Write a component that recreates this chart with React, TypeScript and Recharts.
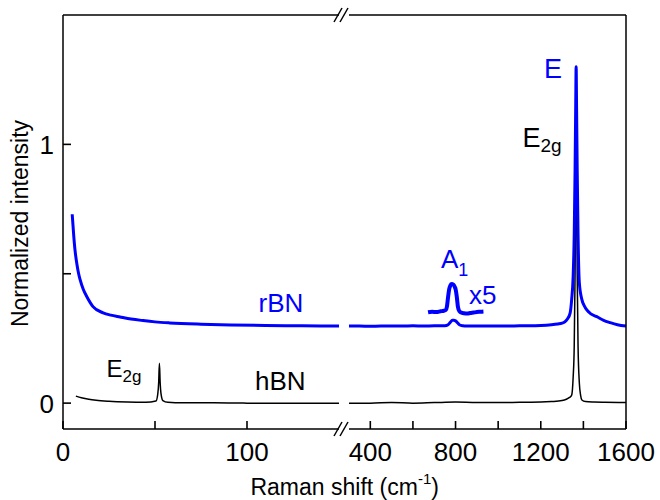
import React from "react";
import { LineChart, Line, XAxis, YAxis } from "recharts";

// hBN, low-frequency window
const hbnLowShift = [7, 10, 14, 18, 25, 35, 45, 50.5, 51.5, 52, 52.4, 52.8, 53.3, 54.3, 57, 65, 80, 100, 120, 150];
const hbnLowInt = [0.027, 0.021, 0.015, 0.011, 0.007, 0.004, 0.003, 0.008, 0.035, 0.08, 0.154, 0.08, 0.035, 0.01, 0.003, 0.001, 0.001, 0, 0, 0];

// rBN, low-frequency window
const rbnLowShift = [5, 5.8, 6.5, 7.5, 8.5, 9.3, 11, 12.9, 16.3, 21.8, 26, 31, 37, 43.5, 50, 58, 75, 91, 110, 130, 150];
const rbnLowInt = [0.73, 0.65, 0.593, 0.54, 0.5, 0.477, 0.44, 0.412, 0.373, 0.349, 0.34, 0.333, 0.325, 0.319, 0.314, 0.31, 0.305, 0.302, 0.3, 0.299, 0.298];

// hBN, high-frequency window
const hbnHighShift = [300, 400, 500, 600, 700, 800, 900, 1000, 1100, 1200, 1250, 1300, 1320, 1335, 1345, 1352, 1357, 1361, 1364, 1366, 1368, 1371, 1375, 1381, 1387, 1393, 1410, 1450, 1500, 1600];
const hbnHighInt = [0, 0, 0.002, 0, 0.002, 0.004, 0.002, 0.002, 0.003, 0.004, 0.006, 0.01, 0.015, 0.022, 0.031, 0.1, 0.22, 0.5, 0.85, 1.0, 0.85, 0.5, 0.22, 0.078, 0.03, 0.012, 0.006, 0.004, 0.003, 0.002];

// rBN, high-frequency window
const rbnHighShift = [300, 350, 400, 450, 500, 550, 600, 650, 700, 750, 765, 775, 785, 792, 800, 810, 820, 835, 850, 900, 950, 1000, 1050, 1100, 1150, 1200, 1250, 1280, 1300, 1314, 1325, 1338, 1345, 1352, 1357, 1361, 1364, 1366, 1368, 1371, 1375, 1381, 1393, 1405, 1416, 1435, 1463, 1495, 1526, 1560, 1600];
const rbnHighInt = [0.298, 0.298, 0.297, 0.298, 0.298, 0.298, 0.299, 0.298, 0.299, 0.299, 0.303, 0.312, 0.32, 0.32, 0.318, 0.31, 0.302, 0.299, 0.298, 0.298, 0.298, 0.298, 0.298, 0.299, 0.299, 0.3, 0.303, 0.306, 0.309, 0.315, 0.325, 0.349, 0.4, 0.49, 0.65, 0.9, 1.15, 1.3, 1.15, 0.9, 0.65, 0.465, 0.4, 0.375, 0.36, 0.345, 0.334, 0.32, 0.311, 0.303, 0.298];

// rBN A1 band, x5 magnified
const rbnA1Shift = [671, 690, 710, 730, 745, 754, 760, 765, 770, 776, 782, 790, 797, 801, 806, 811, 818, 826, 840, 855, 869, 885, 900, 915, 931];
const rbnA1Int = [0.351, 0.353, 0.352, 0.355, 0.357, 0.36, 0.375, 0.41, 0.44, 0.455, 0.46, 0.458, 0.448, 0.438, 0.41, 0.373, 0.355, 0.35, 0.347, 0.346, 0.348, 0.35, 0.352, 0.353, 0.354];

const lowTicks = [0, 50, 100];
const lowLabels = [0, 100];
const highTicks = [400, 600, 800, 1000, 1200, 1400, 1600];
const highLabels = [400, 800, 1200, 1600];
const yTicks = [0, 0.5, 1];
const yLabels = [0, 1];

const zip = (xs: number[], ys: number[]) => xs.map((x, i) => ({ x, y: ys[i] }));

const BLUE = "#0000ff";
const FONT = '"Liberation Sans", Arial, sans-serif';
const axisStroke = { stroke: "#000", strokeWidth: 1.5 };
const tickStroke = { stroke: "#000", strokeWidth: 1.6 };
const TICK_LEN = -8; // negative = ticks point into the plot

const bottomLabel = (labels: number[]) => (props: any) => {
  const { x, y, payload } = props;
  if (!labels.includes(payload.value)) return <g />;
  return (
    <text x={x} y={y + 32} textAnchor="middle" fontSize={26} fill="#000" fontFamily={FONT}>
      {payload.value}
    </text>
  );
};

const leftLabel = (props: any) => {
  const { x, y, payload } = props;
  if (!yLabels.includes(payload.value)) return <g />;
  return (
    <text x={x - 9} y={y + 9.5} textAnchor="end" fontSize={26} fill="#000" fontFamily={FONT}>
      {payload.value}
    </text>
  );
};

export default function App() {
  return (
    <div style={{ position: "absolute", left: 0, top: 0, width: 660, height: 500, background: "#fff", fontFamily: FONT }}>
      <div style={{ position: "absolute", left: 0, top: 0 }}>
        <LineChart width={339} height={500} margin={{ top: 14, right: 0, bottom: 0, left: 0 }}>
          <XAxis
            dataKey="x"
            type="number"
            domain={[0, 150]}
            ticks={lowTicks}
            interval={0}
            height={71}
            tickSize={TICK_LEN}
            tickMargin={-TICK_LEN}
            tickLine={tickStroke}
            axisLine={axisStroke}
            tick={bottomLabel(lowLabels)}
          />
          <XAxis
            xAxisId="top"
            orientation="top"
            dataKey="x"
            type="number"
            domain={[0, 150]}
            ticks={lowTicks}
            interval={0}
            height={1}
            tickSize={TICK_LEN}
            tickLine={tickStroke}
            axisLine={axisStroke}
            tick={false}
          />
          <YAxis
            type="number"
            domain={[-0.1, 1.5]}
            ticks={yTicks}
            interval={0}
            width={63}
            tickSize={TICK_LEN}
            tickMargin={-TICK_LEN}
            tickLine={tickStroke}
            axisLine={axisStroke}
            tick={leftLabel}
          />
          <Line data={zip(hbnLowShift, hbnLowInt)} dataKey="y" type="monotoneX" stroke="#000" strokeWidth={1.5} dot={false} isAnimationActive={false} />
          <Line data={zip(rbnLowShift, rbnLowInt)} dataKey="y" type="monotoneX" stroke={BLUE} strokeWidth={3} dot={false} isAnimationActive={false} />
        </LineChart>
      </div>
      <div style={{ position: "absolute", left: 349, top: 0 }}>
        <LineChart width={311} height={500} margin={{ top: 14, right: 33, bottom: 0, left: 0 }}>
          <XAxis
            dataKey="x"
            type="number"
            domain={[300, 1600]}
            ticks={highTicks}
            interval={0}
            height={71}
            tickSize={TICK_LEN}
            tickMargin={-TICK_LEN}
            tickLine={tickStroke}
            axisLine={axisStroke}
            tick={bottomLabel(highLabels)}
          />
          <XAxis
            xAxisId="top"
            orientation="top"
            dataKey="x"
            type="number"
            domain={[300, 1600]}
            ticks={highTicks}
            interval={0}
            height={1}
            tickSize={TICK_LEN}
            tickLine={tickStroke}
            axisLine={axisStroke}
            tick={false}
          />
          <YAxis
            orientation="right"
            type="number"
            domain={[-0.1, 1.5]}
            width={1}
            tick={false}
            tickLine={false}
            axisLine={axisStroke}
          />
          <Line data={zip(hbnHighShift, hbnHighInt)} dataKey="y" type="monotoneX" stroke="#000" strokeWidth={1.5} dot={false} isAnimationActive={false} />
          <Line data={zip(rbnHighShift, rbnHighInt)} dataKey="y" type="monotoneX" stroke={BLUE} strokeWidth={3} dot={false} isAnimationActive={false} />
          <Line data={zip(rbnA1Shift, rbnA1Int)} dataKey="y" type="monotoneX" stroke={BLUE} strokeWidth={4} dot={false} isAnimationActive={false} />
        </LineChart>
      </div>
      <svg width={660} height={500} style={{ position: "absolute", left: 0, top: 0, pointerEvents: "none" }} fontFamily={FONT}>
        {/* axis break marks */}
        <g stroke="#000" strokeWidth={1.5}>
          <line x1={334} y1={22} x2={342} y2={8} />
          <line x1={340} y1={22} x2={348} y2={8} />
          <line x1={334} y1={436} x2={342} y2={422} />
          <line x1={340} y1={436} x2={348} y2={422} />
        </g>
        <text transform="translate(28,223.5) rotate(-90)" textAnchor="middle" fontSize={23} fill="#000">
          Normalized intensity
        </text>
        <text x={344.7} y={495} textAnchor="middle" fontSize={23} fill="#000">
          Raman shift (cm<tspan dy={-11} fontSize={15}>-1</tspan><tspan dy={11}>)</tspan>
        </text>
        <text x={553} y={78} textAnchor="middle" fontSize={27} fill={BLUE}>E</text>
        <text x={522.5} y={147} fontSize={27} fill="#000">
          E<tspan dy={5} fontSize={19}>2g</tspan>
        </text>
        <text x={441} y={268} fontSize={26} fill={BLUE}>
          A<tspan dy={8} fontSize={18}>1</tspan>
        </text>
        <text x={469} y={304} fontSize={26} fill={BLUE}>x5</text>
        <text x={258.5} y={311.5} fontSize={26} fill={BLUE}>rBN</text>
        <text x={255} y={390} fontSize={26} fill="#000">hBN</text>
        <text x={106.5} y={377} fontSize={24} fill="#000">
          E<tspan dy={5} fontSize={17}>2g</tspan>
        </text>
      </svg>
    </div>
  );
}
